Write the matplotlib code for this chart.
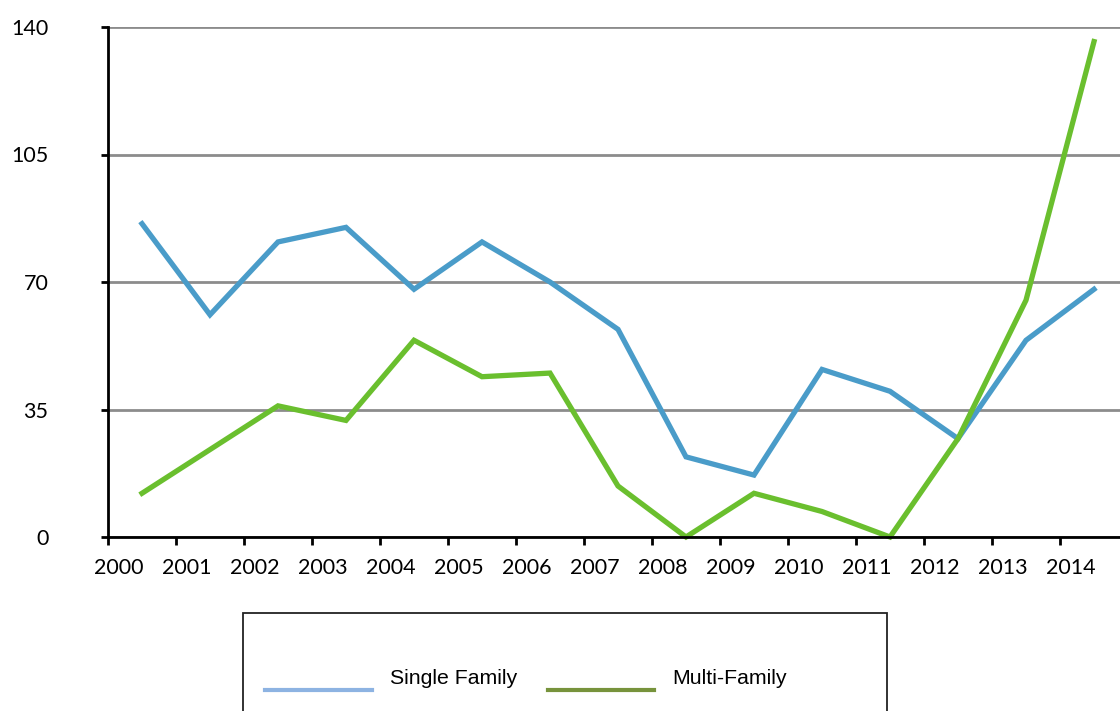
import matplotlib
matplotlib.use('Agg')
import matplotlib.pyplot as plt
from matplotlib.lines import Line2D
from matplotlib.patches import Rectangle

# values
years = ['2000', '2001', '2002', '2003', '2004', '2005', '2006', '2007',
         '2008', '2009', '2010', '2011', '2012', '2013', '2014']
single_family = [86, 61, 81, 85, 68, 81, 70, 57, 22, 17, 46, 40, 27, 54, 68]
multi_family = [12, 24, 36, 32, 54, 44, 45, 14, 0, 12, 7, 0, 27, 65, 136]
y_ticks = [0, 35, 70, 105, 140]

fig = plt.figure(figsize=(11.2, 7.11), dpi=100)
ax = fig.add_axes([108 / 1120, 1 - 537 / 711, 1020 / 1120, 510 / 711])

x = list(range(len(years)))
ax.plot(x, single_family, color='#4a9cc9', lw=3.8, solid_joinstyle='miter', clip_on=False, zorder=3)
ax.plot(x, multi_family, color='#6abf2e', lw=3.8, solid_joinstyle='miter', clip_on=False, zorder=3)

ax.set_xlim(-0.5, len(years) - 0.5)
ax.set_ylim(0, 140)

# tick marks at category edges, labels just right of them
ax.set_xticks([i - 0.5 for i in range(len(years) + 1)])
ax.set_xticklabels([])
ax.set_xticks([i - 0.34 for i in x], minor=True)
ax.set_xticklabels(years, minor=True, fontsize=15.5, family='Lato')
ax.tick_params(axis='x', which='major', length=6, width=2, direction='out')
ax.tick_params(axis='x', which='minor', length=0, pad=15)

ax.set_yticks(y_ticks)
ax.set_yticklabels([str(v) for v in y_ticks], fontsize=15.5, family='Lato')
ax.tick_params(axis='y', length=5, width=2, direction='out', pad=38)

ax.grid(axis='y', color='#8c8c8c', lw=2)
ax.set_axisbelow(True)
for s in ['top', 'right']:
    ax.spines[s].set_visible(False)
for s in ['left', 'bottom']:
    ax.spines[s].set_linewidth(2)
    ax.spines[s].set_zorder(4)

# legend box drawn by hand, cut off at the bottom like the reference
W, H = 1120, 711
fig.add_artist(Rectangle((243 / W, -0.05), (887 - 243) / W, (H - 613) / H + 0.05,
                         transform=fig.transFigure, fill=False, edgecolor='#222222', lw=1.3))
fig.add_artist(Line2D([265 / W, 372 / W], [1 - 690 / H] * 2, transform=fig.transFigure,
                      color='#8db3e2', lw=3))
fig.add_artist(Line2D([548 / W, 654 / W], [1 - 690 / H] * 2, transform=fig.transFigure,
                      color='#77933c', lw=3))
fig.text(390 / W, 1 - 679 / H, 'Single Family', fontsize=15.3, family='Liberation Sans', va='center')
fig.text(672 / W, 1 - 679 / H, 'Multi-Family', fontsize=15.3, family='Liberation Sans', va='center')

fig.savefig('out.png', dpi=100)
